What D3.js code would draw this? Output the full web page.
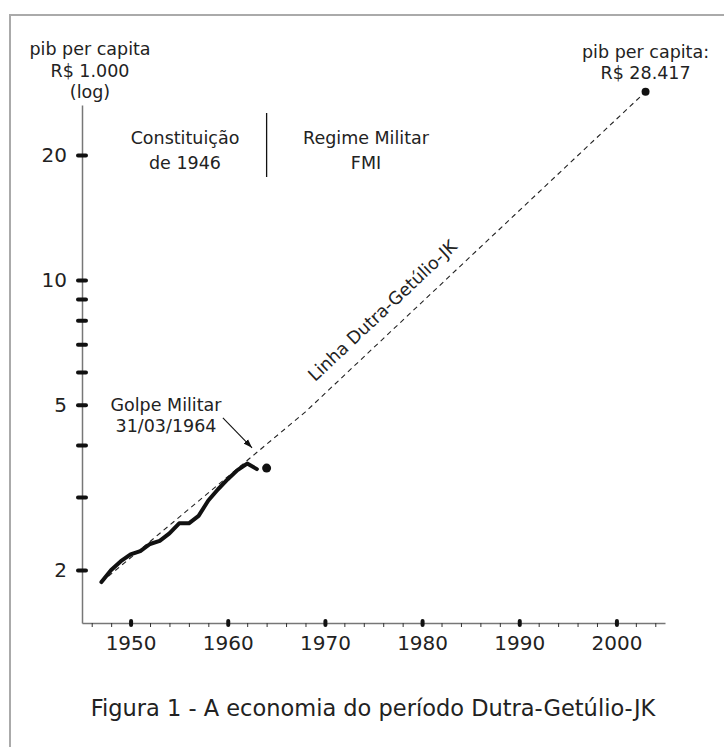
<!DOCTYPE html>
<meta charset="utf-8">
<style>
  body { margin: 0; background: #fff; }
  svg { display: block; font-family: "DejaVu Sans", Verdana, sans-serif; }
  .axis path { stroke: #777; stroke-width: 1.5; }
  .axis text { font-size: 20px; fill: #222; font-family: "DejaVu Sans", Verdana, sans-serif; }
  .note { font-size: 17.5px; fill: #222; text-anchor: middle; }
</style>
<svg width="724" height="747"></svg>
<script src="https://d3js.org/d3.v7.min.js"></script>
<script>
// pib per capita, R$ 1.000
var years = [1947, 1948, 1949, 1950, 1951, 1952, 1953, 1954, 1955, 1956, 1957, 1958, 1959, 1960, 1961, 1962, 1963];
var pib   = [1.87, 2.00, 2.10, 2.18, 2.22, 2.31, 2.35, 2.45, 2.59, 2.59, 2.70, 2.94, 3.13, 3.31, 3.48, 3.61, 3.50];

// last point of the series (1964) and the 2003 value
var dotYears  = [1964, 2003];
var dotValues = [3.52, 28.417];

// "Linha Dutra-Getulio-JK"
var trendYears  = [1947, 1968, 2003];
var trendValues = [1.87, 4.81, 28.417];

var majorYears = [1950, 1960, 1970, 1980, 1990, 2000];
var minorYears = d3.range(1946, 2005, 2).filter(function (d) { return d % 10 != 0; });
var yTicks  = [2, 3, 4, 5, 6, 7, 8, 9, 10, 20];
var yLabels = [2, 5, 10, 20];

var svg = d3.select("svg");

// frame
svg.append("rect")
    .attr("x", 10).attr("y", 15)
    .attr("width", 800).attr("height", 800)
    .attr("fill", "none")
    .attr("stroke", "#aaa")
    .attr("stroke-width", 2);

var x = d3.scaleLinear().domain([1945, 2005]).range([82, 665]);
var y = d3.scaleLog().domain([1.49, 26.4]).range([623, 105]);

// x axis
var xAxis = svg.append("g")
    .attr("class", "axis")
    .attr("transform", "translate(0,623)")
    .call(d3.axisBottom(x).tickValues(majorYears).tickFormat(d3.format("d"))
        .tickSizeOuter(0).tickSizeInner(0).tickPadding(13));
xAxis.selectAll(".tick").append("line")
    .attr("y1", -2).attr("y2", 2)
    .attr("stroke", "#111").attr("stroke-width", 4).attr("stroke-linecap", "round");

svg.append("g")
    .attr("transform", "translate(0,623)")
    .call(d3.axisBottom(x).tickValues(minorYears).tickFormat("").tickSizeOuter(0).tickSizeInner(4))
    .call(function (g) { g.select(".domain").remove(); })
    .selectAll("line").attr("stroke", "#333");

// y axis
var yAxis = svg.append("g")
    .attr("class", "axis")
    .attr("transform", "translate(82,0)")
    .call(d3.axisLeft(y).tickValues(yTicks)
        .tickFormat(function (d) { return yLabels.indexOf(d) >= 0 ? d : ""; })
        .tickSizeOuter(0).tickSizeInner(0).tickPadding(15));
yAxis.selectAll(".tick").append("line")
    .attr("x1", -4).attr("x2", 4)
    .attr("stroke", "#111").attr("stroke-width", 4).attr("stroke-linecap", "round");

// trend line
var line = d3.line()
    .x(function (d) { return x(d[0]); })
    .y(function (d) { return y(d[1]); });

svg.append("path")
    .datum(d3.zip(trendYears, trendValues))
    .attr("d", line)
    .attr("fill", "none")
    .attr("stroke", "#222")
    .attr("stroke-width", 1.1)
    .attr("stroke-dasharray", "5,4");

// series
svg.append("path")
    .datum(d3.zip(years, pib))
    .attr("d", line)
    .attr("fill", "none")
    .attr("stroke", "#111")
    .attr("stroke-width", 4)
    .attr("stroke-linejoin", "round")
    .attr("stroke-linecap", "round");

svg.selectAll(".dot")
    .data(d3.zip(dotYears, dotValues))
    .enter().append("circle")
    .attr("cx", function (d) { return x(d[0]); })
    .attr("cy", function (d) { return y(d[1]); })
    .attr("r", function (d, i) { return i == 0 ? 4.5 : 4; })
    .attr("fill", "#111");

// texts
function lines(xp, yp, arr, dy) {
  arr.forEach(function (t, i) {
    svg.append("text").attr("class", "note")
        .attr("x", xp).attr("y", yp + i * dy).text(t);
  });
}
lines(90, 55, ["pib per capita", "R$ 1.000", "(log)"], 21.5);
lines(x(2003), 58, ["pib per capita:", "R$ 28.417"], 21);
lines(185, 144, ["Constituição", "de 1946"], 25);
lines(366, 144, ["Regime Militar", "FMI"], 25);
lines(166, 411, ["Golpe Militar", "31/03/1964"], 20.5);

svg.append("text").attr("class", "note")
    .attr("x", 373).attr("y", 716)
    .style("font-size", "22.5px")
    .text("Figura 1 - A economia do período Dutra-Getúlio-JK");

// separator at 1964
svg.append("line")
    .attr("x1", x(1964)).attr("x2", x(1964))
    .attr("y1", 113).attr("y2", 177)
    .attr("stroke", "#111").attr("stroke-width", 1.3);

// arrow to the coup
svg.append("defs").append("marker")
    .attr("id", "head")
    .attr("viewBox", "0 0 10 10")
    .attr("refX", 10).attr("refY", 5)
    .attr("markerWidth", 9).attr("markerHeight", 9)
    .attr("markerUnits", "userSpaceOnUse")
    .attr("orient", "auto")
    .append("path").attr("d", "M0,1.5L10,5L0,8.5Z").attr("fill", "#111");

svg.append("line")
    .attr("x1", x(1959.5)).attr("y1", y(4.65))
    .attr("x2", x(1962.5)).attr("y2", y(3.94))
    .attr("stroke", "#111").attr("stroke-width", 1.1)
    .attr("marker-end", "url(#head)");

// rotated label along the trend
var a = [x(trendYears[1]), y(trendValues[1])],
    b = [x(trendYears[2]), y(trendValues[2])];
var angle = Math.atan2(b[1] - a[1], b[0] - a[0]) * 180 / Math.PI;
var t = (1969 - trendYears[1]) / (trendYears[2] - trendYears[1]);
svg.append("text")
    .attr("class", "note")
    .style("text-anchor", "start")
    .attr("transform", "translate(" + (a[0] + t * (b[0] - a[0])) + "," + (a[1] + t * (b[1] - a[1])) + ") rotate(" + angle + ")")
    .attr("x", 14).attr("y", -15)
    .text("Linha Dutra-Getúlio-JK");
</script>
